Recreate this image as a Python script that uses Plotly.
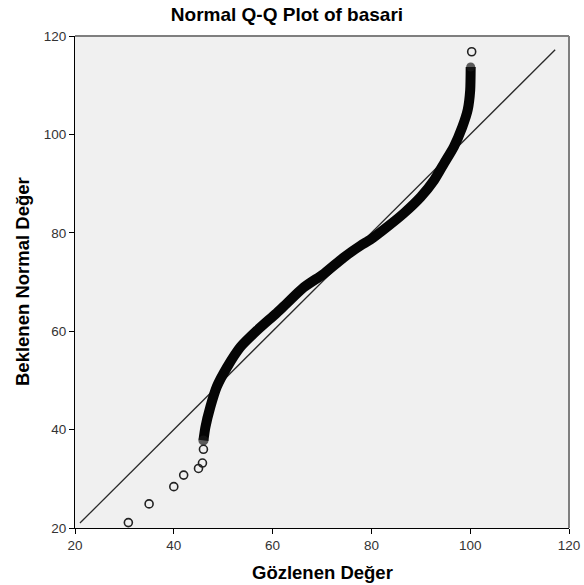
import plotly.graph_objects as go

# Dense body of the Q-Q plot (observed value, expected normal value), read along the band
band_observed = [46.0, 46.4, 47.4, 48.7, 50.8, 53.5, 56.9, 60.6, 62.3, 66.3, 70.4, 74.4,
                 77.8, 79.8, 83.2, 86.6, 90.0, 92.7, 94.7, 96.7, 98.4, 99.5, 100.0, 100.1]
band_expected = [37.8, 40.5, 44.6, 48.7, 52.7, 56.8, 60.2, 63.5, 65.1, 68.9, 71.7, 75.0,
                 77.4, 78.6, 81.2, 84.0, 87.3, 90.7, 94.1, 97.5, 101.5, 105.0, 109.0, 113.7]

# Isolated points
single_observed = [30.8, 35.0, 40.0, 42.0, 45.0, 45.8, 46.0, 100.3]
single_expected = [21.1, 24.9, 28.4, 30.75, 32.1, 33.2, 36.0, 116.8]

# Reference line end points
ref_x = [21.0, 117.2]
ref_y = [21.0, 117.2]

tick_vals = [20, 40, 60, 80, 100, 120]

title_text = "Normal Q-Q Plot of basari"
x_title = "Gözlenen Değer"
y_title = "Beklenen Normal Değer"

FONT = "Arial, Liberation Sans, sans-serif"

fig = go.Figure()

fig.add_trace(go.Scatter(
    x=ref_x, y=ref_y, mode="lines",
    line=dict(color="#2a2a2a", width=1.3),
    hoverinfo="skip", showlegend=False))

n = len(band_observed)
end_sizes = [10] + [0] * (n - 2) + [9]
fig.add_trace(go.Scatter(
    x=band_observed, y=band_expected, mode="lines+markers",
    line=dict(color="#050505", width=10, shape="spline", smoothing=0.6),
    marker=dict(size=end_sizes, color="#1a1a1a", line=dict(width=0)),
    showlegend=False))

fig.add_trace(go.Scatter(
    x=single_observed, y=single_expected, mode="markers",
    marker=dict(symbol="circle-open", size=8, color="#222222",
                line=dict(width=1.6, color="#222222")),
    showlegend=False))

axis_common = dict(
    range=[20, 120], tickvals=tick_vals, ticktext=[str(v) for v in tick_vals],
    showgrid=False, zeroline=False, showline=True, linecolor="#000000", linewidth=1,
    ticks="outside", ticklen=5, tickwidth=1, tickcolor="#000000",
    tickfont=dict(family=FONT, size=13.5, color="#333333"),
    automargin=False,
)

fig.update_layout(
    width=584, height=585,
    margin=dict(l=75, r=15, t=36, b=57),
    paper_bgcolor="white", plot_bgcolor="#F0F0F0",
    title=dict(text="<b>" + title_text + "</b>", x=0.4914, xanchor="center",
               y=0.976, yanchor="middle",
               font=dict(family=FONT, size=19, color="#000000")),
    xaxis=dict(**axis_common),
    yaxis=dict(**axis_common),
    annotations=[
        dict(text="<b>" + x_title + "</b>", xref="paper", yref="paper", x=0.5, y=0,
             xanchor="center", yanchor="middle", yshift=-44, showarrow=False,
             font=dict(family=FONT, size=18.5, color="#000000")),
        dict(text="<b>" + y_title + "</b>", xref="paper", yref="paper", x=0, y=0.5,
             xanchor="center", yanchor="middle", xshift=-53, textangle=-90,
             showarrow=False,
             font=dict(family=FONT, size=18.5, color="#000000")),
    ],
    shapes=[
        dict(type="line", xref="paper", yref="paper", x0=0, x1=1, y0=1, y1=1,
             line=dict(color="#7f7f7f", width=2)),
        dict(type="line", xref="paper", yref="paper", x0=1, x1=1, y0=0, y1=1,
             line=dict(color="#7f7f7f", width=2)),
    ],
)

fig.write_html("out.html")
